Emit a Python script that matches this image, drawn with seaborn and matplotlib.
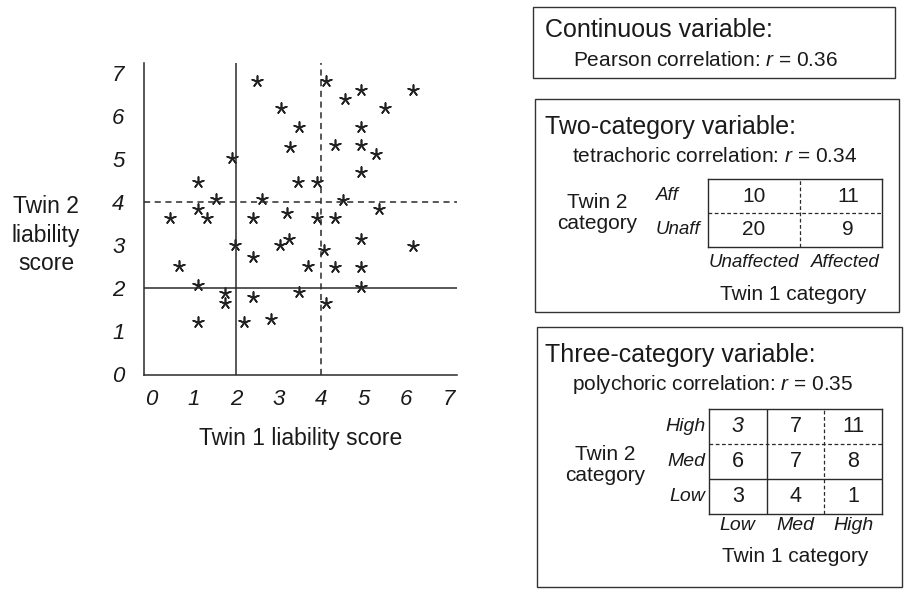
import matplotlib
matplotlib.use("Agg")
import matplotlib.pyplot as plt
from matplotlib.patches import Rectangle
import seaborn as sns
import pandas as pd
import numpy as np

# ---------------- data ----------------
twin1 = [2.49, 3.05, 3.49, 3.26, 1.91, 1.11, 3.46, 3.90, 1.53, 2.61,
         1.11, 0.45, 1.32, 2.40, 3.21, 3.90, 4.12, 4.93, 4.56, 6.16,
         5.51, 4.93, 4.34, 4.93, 5.29, 4.93, 4.51, 5.37, 4.34, 1.97,
         3.25, 3.04, 2.40, 0.67, 3.69, 1.11, 1.75, 1.75, 2.40, 3.48,
         1.11, 2.18, 2.83, 4.93, 4.08, 6.16, 4.34, 4.93, 4.93, 4.12]
twin2 = [6.82, 6.19, 5.75, 5.27, 5.02, 4.47, 4.47, 4.47, 4.06, 4.06,
         3.84, 3.62, 3.62, 3.62, 3.74, 3.62, 6.82, 6.60, 6.40, 6.60,
         6.19, 5.75, 5.33, 5.33, 5.11, 4.69, 4.05, 3.83, 3.62, 2.99,
         3.15, 2.99, 2.73, 2.51, 2.51, 2.07, 1.89, 1.66, 1.78, 1.91,
         1.22, 1.22, 1.28, 3.15, 2.88, 2.98, 2.50, 2.50, 2.02, 1.64]
axis_ticks = [0, 1, 2, 3, 4, 5, 6, 7]
thresh_solid = 2
thresh_dashed = 4

pearson_r = 0.36
tetra_r = 0.34
poly_r = 0.35

two_rows = ["Aff", "Unaff"]
two_cols = ["Unaffected", "Affected"]
two_counts = [[10, 11],
              [20, 9]]

three_rows = ["High", "Med", "Low"]
three_cols = ["Low", "Med", "High"]
three_counts = [[3, 7, 11],
                [6, 7, 8],
                [3, 4, 1]]

# ---------------- style ----------------
sns.set_style("white")
plt.rcParams["font.family"] = ["Liberation Sans", "DejaVu Sans"]
plt.rcParams["mathtext.fontset"] = "custom"
plt.rcParams["mathtext.rm"] = "Liberation Sans"
plt.rcParams["mathtext.it"] = "Liberation Sans:italic"

TXT = "#1a1a1a"
LN = "#2a2a2a"
W, H = 909, 590
fig = plt.figure(figsize=(W / 100, H / 100), dpi=100)


def px_axes(l, t, r, b):
    return fig.add_axes([l / W, 1 - b / H, (r - l) / W, (b - t) / H])


def ftext(x, y, s, **kw):
    kw.setdefault("color", TXT)
    kw.setdefault("va", "center")
    fig.text(x / W, 1 - y / H, s, **kw)


def fbox(l, t, r, b):
    fig.add_artist(Rectangle((l / W, 1 - b / H), (r - l) / W, (b - t) / H,
                             transform=fig.transFigure, fill=False,
                             edgecolor="#333333", linewidth=1.0))


# ---------------- scatter ----------------
ax = px_axes(144, 63, 457, 375)
df = pd.DataFrame({"twin1": twin1, "twin2": twin2})
sns.scatterplot(data=df, x="twin1", y="twin2", marker=(5, 2, 0), s=62,
                color="#222222", linewidth=1.2, ax=ax)
ax.set_xlim(-0.165, 7.2)
ax.set_ylim(-0.023, 7.233)
ax.axvline(thresh_solid, color=LN, lw=1.1)
ax.axhline(thresh_solid, color=LN, lw=1.1)
ax.axvline(thresh_dashed, color=LN, lw=1.1, ls=(0, (4, 3)))
ax.axhline(thresh_dashed, color=LN, lw=1.1, ls=(0, (4, 3)))
for s in ["top", "right"]:
    ax.spines[s].set_visible(False)
for s in ["left", "bottom"]:
    ax.spines[s].set_color(LN)
    ax.spines[s].set_linewidth(1.1)
ax.set_xticks(axis_ticks)
ax.set_yticks(axis_ticks)
ax.set_xticklabels([str(t) for t in axis_ticks], fontsize=16, style="italic", color=TXT)
ax.set_yticklabels([str(t) for t in axis_ticks], fontsize=16, style="italic", color=TXT)
ax.tick_params(axis="x", length=0, pad=10)
ax.tick_params(axis="y", length=0, pad=14)
ax.set_xlabel("Twin 1 liability score", fontsize=16.5, color=TXT, labelpad=12)
ax.set_ylabel("")
ax.patch.set_alpha(0)
ftext(46, 235, "Twin 2\nliability\nscore", fontsize=16.5, ha="center",
      linespacing=1.32)

# ---------------- box 1 ----------------
fbox(533, 7, 895, 78)
ftext(545, 30, "Continuous variable:", fontsize=18)
ftext(573, 60, f"Pearson correlation: $\\mathit{{r}}$ = {pearson_r:.2f}", fontsize=15)

# ---------------- box 2 ----------------
fbox(535, 99, 899, 312)
ftext(545, 127, "Two-category variable:", fontsize=18)
ftext(572, 157, f"tetrachoric correlation: $\\mathit{{r}}$ = {tetra_r:.2f}", fontsize=15)
ftext(597, 213, "Twin 2\ncategory", fontsize=15, ha="center", linespacing=1.18)
ftext(793, 295, "Twin 1 category", fontsize=15, ha="center")

t2 = px_axes(708, 179, 882, 247)
t2.set_xlim(0, 1.9)
t2.set_ylim(0, 2)
t2.set_xticks([]); t2.set_yticks([])
for s in t2.spines.values():
    s.set_visible(True); s.set_color(LN); s.set_linewidth(1.0)
t2.axvline(1, color=LN, lw=0.9, ls=(0, (3, 2)))
t2.axhline(1, color=LN, lw=0.9, ls=(0, (3, 2)))
for i, rl in enumerate(two_rows):
    yc = len(two_rows) - i - 0.5
    t2.text(-0.30, yc, rl, transform=t2.get_yaxis_transform(), fontsize=13.5,
            style="italic", ha="left", va="center", color=TXT)
    for j, v in enumerate(two_counts[i]):
        t2.text(j + 0.5 + 0.03 * j, yc, str(v), fontsize=15, ha="center",
                va="center", color=TXT)
for j, cl in enumerate(two_cols):
    t2.text(j + 0.5, -0.45, cl, fontsize=13.5, style="italic", ha="center",
            va="center", color=TXT)

# ---------------- box 3 ----------------
fbox(537, 327, 902, 587)
ftext(545, 355, "Three-category variable:", fontsize=18)
ftext(572, 384, f"polychoric correlation: $\\mathit{{r}}$ = {poly_r:.2f}", fontsize=15)
ftext(605, 465, "Twin 2\ncategory", fontsize=15, ha="center", linespacing=1.18)
ftext(795, 557, "Twin 1 category", fontsize=15, ha="center")

t3 = px_axes(709, 409, 882, 514)
t3.set_xlim(0, 3)
t3.set_ylim(0, 3)
t3.set_xticks([]); t3.set_yticks([])
for s in t3.spines.values():
    s.set_visible(True); s.set_color(LN); s.set_linewidth(1.0)
t3.axvline(1, color=LN, lw=1.0)
t3.axvline(2, color=LN, lw=0.9, ls=(0, (3, 2)))
t3.axhline(1, color=LN, lw=1.0)
t3.axhline(2, color=LN, lw=0.9, ls=(0, (3, 2)))
for i, rl in enumerate(three_rows):
    yc = len(three_rows) - i - 0.5
    t3.text(-0.02, yc, rl, transform=t3.get_yaxis_transform(), fontsize=14,
            style="italic", ha="right", va="center", color=TXT)
    for j, v in enumerate(three_counts[i]):
        st = "italic" if (i == 0 and j == 0) else "normal"
        t3.text(j + 0.5, yc, str(v), fontsize=15.5, style=st, ha="center",
                va="center", color=TXT)
for j, cl in enumerate(three_cols):
    t3.text(j + 0.5, -0.34, cl, fontsize=14, style="italic", ha="center",
            va="center", color=TXT)

fig.savefig("out.png", dpi=100)
